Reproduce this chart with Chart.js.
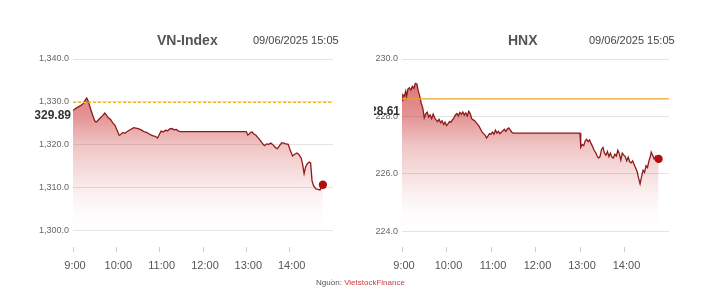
<!DOCTYPE html>
<html>
<head>
<meta charset="utf-8">
<script src="https://cdn.jsdelivr.net/npm/chart.js@4.4.1/dist/chart.umd.min.js"></script>
<style>
  body { margin: 0; background: #fff; font-family: "Liberation Sans", Arial, sans-serif; }
  #wrap { position: relative; width: 721px; height: 297px; overflow: hidden; }
  canvas { position: absolute; top: 0; }
  .titulo { position: absolute; top: 32px; font-size: 14px; font-weight: bold; color: #555; }
  .data { position: absolute; top: 34px; font-size: 11px; color: #444; }
  #fonte { position: absolute; top: 278px; width: 721px; text-align: center; font-size: 8px; color: #555; }
  #fonte span { color: #c8413f; }
</style>
</head>
<body>
<div id="wrap">
  <canvas id="vnChart" width="360" height="297" style="left:0"></canvas>
  <canvas id="hnxChart" width="361" height="297" style="left:360px"></canvas>
  <div class="titulo" style="left:157px">VN-Index</div>
  <div class="data" style="left:253px">09/06/2025 15:05</div>
  <div class="titulo" style="left:508px">HNX</div>
  <div class="data" style="left:589px">09/06/2025 15:05</div>
  <div id="fonte">Nguồn: <span>VietstockFinance</span></div>
</div>
<script>
// VN-Index intraday
const vnHoras = [
  '09:00','09:02','09:05','09:08','09:11','09:14','09:17','09:19','09:21','09:24','09:27','09:30',
  '09:32','09:35','09:38','09:41','09:44','09:46','09:49','09:52','09:55','09:58','10:01','10:04',
  '10:06','10:09','10:12','10:15','10:18','10:21','10:24','10:27','10:30','10:33','10:36','10:39',
  '10:42','10:45','10:48','10:51','10:54','10:57','11:00','11:02','11:05','11:08','11:11','11:14',
  '11:17','11:20','11:23','11:26','11:29','11:30','13:00','13:02','13:04','13:06','13:08','13:10',
  '13:13','13:16','13:19','13:22','13:25','13:28','13:31','13:34','13:37','13:40','13:43','13:46',
  '13:49','13:52','13:55','13:58','14:01','14:04','14:07','14:10','14:13','14:16','14:18','14:20',
  '14:22','14:24','14:27','14:29','14:31','14:33','14:36','14:39','14:42','14:44','14:46'
];
const vnValores = [
  1328.0,1328.3,1328.6,1328.9,1329.2,1329.6,1330.4,1330.9,1330.2,1328.6,1327.0,1325.6,
  1325.3,1325.8,1326.3,1326.8,1327.4,1327.0,1326.3,1325.9,1325.1,1324.6,1323.4,1322.2,
  1322.4,1322.9,1322.7,1323.1,1323.4,1323.7,1324.0,1323.9,1323.8,1323.6,1323.3,1323.0,
  1322.9,1322.6,1322.3,1322.1,1322.0,1321.6,1322.6,1323.2,1323.0,1323.4,1323.3,1323.7,
  1323.8,1323.5,1323.6,1323.2,1323.1,1323.1,1323.1,1322.3,1322.5,1322.9,1323.0,1322.6,
  1322.3,1321.7,1321.1,1320.4,1319.8,1320.2,1320.1,1320.4,1320.0,1319.4,1319.1,1319.8,
  1320.5,1320.4,1320.2,1320.1,1318.6,1317.4,1317.8,1318.1,1317.7,1316.9,1315.4,1313.3,
  1314.8,1315.5,1316.0,1315.8,1311.6,1310.5,1309.8,1309.6,1309.5,1310.2,1310.7
];
const vnReferencia = 1329.89;
const vnTicksY = [1300, 1310, 1320, 1330, 1340];

// HNX intraday
const hnxHoras = [
  '09:00','09:01','09:03','09:05','09:06','09:08','09:10','09:12','09:14','09:16','09:18','09:20',
  '09:22','09:24','09:26','09:28','09:30','09:32','09:34','09:36','09:38','09:40','09:42','09:44',
  '09:46','09:48','09:50','09:52','09:54','09:56','09:58','10:00','10:02','10:04','10:06','10:08',
  '10:10','10:12','10:14','10:16','10:18','10:20','10:22','10:24','10:26','10:28','10:30','10:32',
  '10:34','10:36','10:38','10:40','10:42','10:44','10:46','10:48','10:50','10:52','10:54','10:56',
  '10:58','11:00','11:02','11:04','11:06','11:08','11:10','11:12','11:14','11:16','11:18','11:20',
  '11:22','11:24','11:26','11:28','11:30','13:00','13:01','13:03','13:05','13:07','13:09','13:11',
  '13:13','13:15','13:17','13:19','13:21','13:23','13:25','13:27','13:29','13:31','13:33','13:35',
  '13:37','13:39','13:41','13:43','13:45','13:47','13:49','13:51','13:53','13:55','13:57','13:59',
  '14:01','14:03','14:05','14:07','14:09','14:11','14:13','14:15','14:17','14:19','14:21','14:23',
  '14:25','14:27','14:29','14:31','14:33','14:35','14:36','14:38','14:40','14:42','14:44','14:46'
];
const hnxValores = [
  228.55,228.75,228.70,228.88,228.68,228.95,229.00,228.92,229.05,228.98,229.15,229.13,
  228.88,228.70,228.45,228.30,227.95,228.10,228.15,227.98,228.05,227.92,228.08,227.95,
  227.88,227.82,227.90,227.78,227.85,227.72,227.80,227.68,227.74,227.82,227.80,227.88,
  227.95,228.05,228.10,228.02,228.14,228.08,228.15,228.05,228.12,228.02,228.18,228.10,
  227.92,227.88,227.85,227.78,227.72,227.65,227.55,227.45,227.40,227.35,227.25,227.32,
  227.40,227.38,227.45,227.38,227.52,227.42,227.48,227.40,227.45,227.50,227.55,227.48,
  227.56,227.60,227.52,227.45,227.42,227.42,226.92,227.02,226.98,227.15,227.20,227.12,
  227.18,227.05,226.95,226.82,226.75,226.62,226.55,226.60,226.85,226.92,226.72,226.65,
  226.78,226.60,226.72,226.58,226.55,226.68,226.62,226.82,226.70,226.48,226.72,226.65,
  226.60,226.45,226.58,226.42,226.38,226.45,226.32,226.20,226.08,225.85,225.65,225.90,
  226.12,226.05,226.28,226.22,226.45,226.62,226.76,226.65,226.52,226.60,226.45,226.52
];
const hnxReferencia = 228.61;
const hnxTicksY = [224, 226, 228, 230];

const horasEixoX = ['9:00', '10:00', '11:00', '12:00', '13:00', '14:00'];

// minutes since 9:00
function minutos(h) {
  const [hh, mm] = h.split(':').map(Number);
  return (hh - 9) * 60 + mm;
}

function gradiente(context) {
  const { ctx, chartArea } = context.chart;
  if (!chartArea) return null;
  const g = ctx.createLinearGradient(0, chartArea.top, 0, chartArea.bottom);
  g.addColorStop(0, 'rgba(200,40,40,0.72)');
  g.addColorStop(0.3, 'rgba(200,40,40,0.5)');
  g.addColorStop(0.46, 'rgba(200,40,40,0.27)');
  g.addColorStop(0.69, 'rgba(200,40,40,0.09)');
  g.addColorStop(0.92, 'rgba(255,255,255,0)');
  return g;
}

// label of the reference price, drawn under the line and clipped at the axis edge
const rotuloReferencia = {
  id: 'rotuloReferencia',
  afterDraw(chart, args, opts) {
    const { ctx, chartArea, scales } = chart;
    const y = scales.y.getPixelForValue(opts.valor) + 13;
    ctx.save();
    ctx.beginPath();
    ctx.rect(scales.y.left + 2, 0, chart.width, chart.height);
    ctx.clip();
    ctx.font = 'bold 12px "Liberation Sans", Arial, sans-serif';
    ctx.fillStyle = '#333';
    ctx.textAlign = 'right';
    ctx.textBaseline = 'middle';
    ctx.fillText(opts.texto, chartArea.left - 2, y);
    ctx.restore();
  }
};

function criarGrafico(id, horas, valores, referencia, cfg) {
  const pontos = horas.map((h, i) => ({ x: minutos(h), y: valores[i] }));
  const ultimo = pontos.length - 1;
  const ctx = document.getElementById(id).getContext('2d');

  return new Chart(ctx, {
    type: 'line',
    data: {
      datasets: [{
        data: [{ x: 0, y: referencia }, { x: 360, y: referencia }],
        borderColor: cfg.corReferencia,
        borderWidth: 1.3,
        borderDash: cfg.tracejado,
        pointRadius: 0,
        fill: false,
        order: 0
      }, {
        data: pontos,
        borderColor: '#8e1b1b',
        borderWidth: 1.3,
        backgroundColor: gradiente,
        fill: 'start',
        tension: 0,
        pointRadius: c => c.dataIndex === ultimo ? 3.5 : 0,
        pointBackgroundColor: '#b30f0f',
        pointBorderColor: '#b30f0f',
        order: 1
      }]
    },
    options: {
      responsive: false,
      animation: false,
      devicePixelRatio: 1,
      layout: { padding: cfg.padding },
      plugins: {
        legend: { display: false },
        tooltip: { enabled: false },
        rotuloReferencia: { valor: referencia, texto: cfg.textoReferencia }
      },
      scales: {
        x: {
          type: 'linear',
          min: 0,
          max: 360,
          afterBuildTicks: s => { s.ticks = horasEixoX.map((h, i) => ({ value: i * 60 })); },
          afterFit: s => { s.height = 30; },
          ticks: {
            callback: (v, i) => horasEixoX[i],
            font: { size: 11, family: '"Liberation Sans", Arial, sans-serif' },
            color: '#555',
            padding: 7,
            labelOffset: 2,
            maxRotation: 0
          },
          grid: { drawOnChartArea: false, tickLength: 5, color: '#ccc' },
          border: { display: false }
        },
        y: {
          min: cfg.min,
          max: cfg.max,
          afterBuildTicks: s => { s.ticks = cfg.ticksY.map(v => ({ value: v })); },
          afterFit: s => { s.width = cfg.larguraY; },
          ticks: {
            callback: v => v.toLocaleString('en-US', { minimumFractionDigits: 1, maximumFractionDigits: 1 }),
            font: { size: 9, family: '"Liberation Sans", Arial, sans-serif' },
            color: '#666',
            padding: 4
          },
          grid: { color: '#e4e4e4', drawTicks: false },
          border: { display: false }
        }
      }
    },
    plugins: [rotuloReferencia]
  });
}

window.onload = function() {
  criarGrafico('vnChart', vnHoras, vnValores, vnReferencia, {
    min: 1296.2, max: 1340, ticksY: vnTicksY, larguraY: 40,
    padding: { left: 33, right: 27, top: 59, bottom: 20 },
    corReferencia: '#f0b418', tracejado: [3, 2],
    textoReferencia: '1,329.89'
  });
  criarGrafico('hnxChart', hnxHoras, hnxValores, hnxReferencia, {
    min: 223.45, max: 230, ticksY: hnxTicksY, larguraY: 30,
    padding: { left: 12, right: 52, top: 59, bottom: 20 },
    corReferencia: '#eda428', tracejado: [],
    textoReferencia: '228.61'
  });
};
</script>
</body>
</html>
